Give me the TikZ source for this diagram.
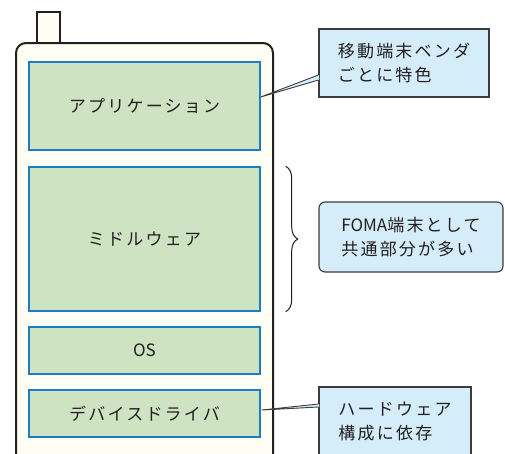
\documentclass[tikz,border=0pt]{standalone}
\usepackage{fontspec}
\setmainfont{Noto Sans CJK JP}[LetterSpace=13]
\newcommand{\plain}[1]{{\addfontfeature{LetterSpace=0}#1}}
\usetikzlibrary{decorations.pathreplacing,calc}
\definecolor{ink}{HTML}{231F20}
\definecolor{body}{HTML}{FFFEF4}
\definecolor{layer}{HTML}{CDE3C2}
\definecolor{layeredge}{HTML}{1B7DC4}
\definecolor{note}{HTML}{D5ECF9}
\definecolor{noteedge}{HTML}{3C3C3C}
\tikzset{
  layerbox/.style={draw=layeredge, line width=1.4pt, fill=layer, minimum width=231pt,
    inner sep=0pt, font=\fontsize{17}{20}\selectfont, text=ink},
  notebox/.style={draw=noteedge, line width=1.1pt, fill=note, inner sep=0pt, align=left,
    font=\fontsize{17}{24}\selectfont, text=ink},
  pointer/.style={draw=noteedge, line width=0.9pt, fill=note, line join=miter},
}
\begin{document}
\begin{tikzpicture}[x=1pt,y=-1pt]
\useasboundingbox (0,0) rectangle (505,453);
\clip (0,0) rectangle (505,453);
% handset: antenna and body
\draw[ink, line width=1.6pt, fill=body] (37,43) rectangle (60,12);
\draw[ink, line width=2pt, fill=body, rounded corners=10pt]
  (16,470) -- (16,43) -- (273,43) -- (273,470);
% software layers
\node[layerbox, minimum height=88pt]  (app) at (144.5,106)   {アプリケーション};
\node[layerbox, minimum height=144pt] (mw)  at (144.5,239)   {ミドルウェア};
\node[layerbox, minimum height=47pt]  (os)  at (144.5,350.5) {\plain{OS}};
\node[layerbox, minimum height=47pt]  (dd)  at (144.5,413.5) {デバイスドライバ};
% notes
\node[notebox, minimum width=170pt, minimum height=68pt] (c1) at (404,63)
  {移動端末ベンダ\\ごとに特色};
\node[notebox, rounded corners=6pt, minimum width=184pt, minimum height=70pt] (c2) at (411,237)
  {\plain{FOMA}端末として\\共通部分が多い};
\node[notebox, minimum width=152pt, minimum height=68pt] (c3) at (395,421)
  {ハードウェア\\構成に依存};
% pointers from notes to layers
\fill[note] ($(c1.west)+(0.6,12)$) -- ($(app.east)+(0,-9)$) -- ($(c1.west)+(0.6,17)$) -- cycle;
\draw[pointer, fill=none] ($(c1.west)+(0,12)$) -- ($(app.east)+(0,-9)$) -- ($(c1.west)+(0,17)$);
\fill[note] ($(c3.west)+(0.6,-17)$) -- ($(dd.east)+(1,-3.5)$) -- ($(c3.west)+(0.6,-14)$) -- cycle;
\draw[pointer, fill=none] ($(c3.west)+(0,-17)$) -- ($(dd.east)+(1,-3.5)$) -- ($(c3.west)+(0,-14)$);
% brace grouping the middleware
\draw[ink, line width=1pt, decorate, decoration={brace, amplitude=12pt}]
  ($(mw.north east)+(25,0)$) -- ($(mw.south east)+(25,0)$);
\end{tikzpicture}
\end{document}
